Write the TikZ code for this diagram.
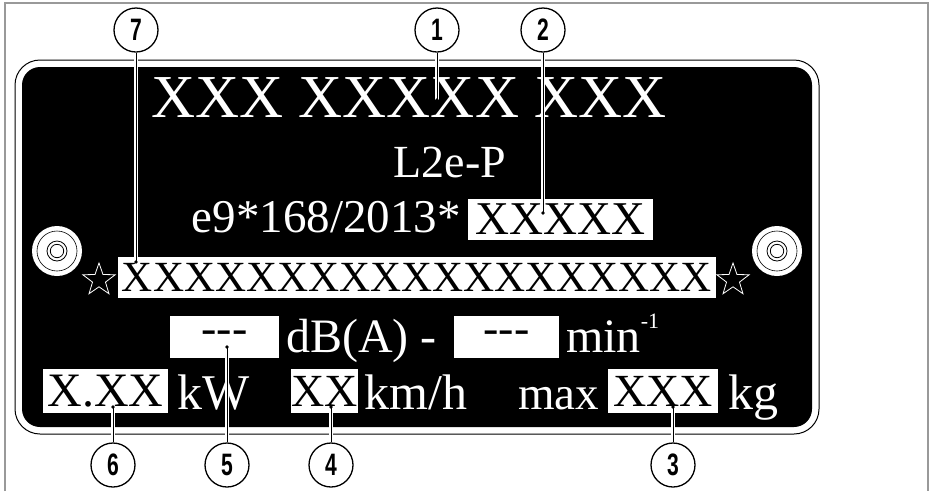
\documentclass[tikz,border=0pt]{standalone}
\usepackage{fontspec}
\usepackage{graphicx}
\setmainfont{Liberation Serif}
\newfontfamily\calloutfont{Liberation Sans}
\usetikzlibrary{shapes.geometric}
\tikzset{
  platetext/.style={text=white, inner sep=0pt, font=\fontsize{46}{50}\selectfont},
  rowtext/.style={text=white, inner sep=0pt, font=\fontsize{50}{54}\selectfont},
  whitebox/.style={fill=white, text=black, inner sep=0pt, font=\fontsize{46}{50}\selectfont},
  callout/.style={circle, draw=black, line width=1.3pt, fill=white, minimum size=44pt, inner sep=0pt,
    font=\calloutfont\bfseries\fontsize{31}{31}\selectfont},
  leaderhalo/.style={white, line width=3.5pt},
  leaderline/.style={black, line width=1pt},
  starmark/.style={star, star points=5, star point ratio=2.5, draw=white, line width=0.8pt,
    minimum size=34pt, inner sep=0pt},
  framegray/.style={draw=black!40, line width=1.5pt},
}
\newcommand{\cnum}[1]{\scalebox{0.68}[1]{#1}}
\begin{document}
\begin{tikzpicture}[x=1pt,y=-1pt]
\useasboundingbox (0,0) rectangle (931,491);
% outer frame
\draw[framegray] (5,491) -- (5,3) -- (928,3) -- (928,491);
% plate
\draw[black, line width=1pt, rounded corners=25pt] (15,60) rectangle (819,434);
\fill[black, rounded corners=18pt] (22,67) rectangle (812,427);
% screws
\foreach \sx in {57,777}{
  \fill[white] (\sx,251) circle (25pt);
  \draw[black, line width=0.6pt] (\sx,251) circle (20pt);
  \draw[black, line width=0.8pt] (\sx,251) circle (10pt);
  \draw[black, line width=0.8pt] (\sx,251) circle (6.7pt);
}
% stars
\node[starmark] (starl) at (99,280) {};
\node[starmark] (starr) at (733,280) {};
% texts
\node[platetext, anchor=base, font=\fontsize{61}{64}\selectfont] (title) at (409,117) {XXX XXXXX XXX};
\node[platetext, anchor=base] (type) at (450,177) {L2e-P};
\node[platetext, anchor=base east, font=\fontsize{47}{50}\selectfont] (appr) at (461,232) {e9*168/2013*};
\node[whitebox, minimum width=185pt, minimum height=41pt, font=\fontsize{47}{50}\selectfont] (boxapp) at (560.5,219.5) {XXXXX};
\node[whitebox, minimum width=598pt, minimum height=41pt, font=\fontsize{43}{46}\selectfont] (boxvin) at (417,277.5) {XXXXXXXXXXXXXXXXXXX};
% noise row
\node[whitebox, minimum width=109pt, minimum height=42pt] (boxdb) at (224.5,337) {-{}-{}-};
\node[platetext, anchor=base west, font=\fontsize{48}{52}\selectfont] (db) at (286,352) {dB(A) -};
\node[whitebox, minimum width=105pt, minimum height=42pt] (boxrpm) at (506.5,337) {-{}-{}-};
\node[platetext, anchor=base west, font=\fontsize{48}{52}\selectfont] (rpm) at (566,352) {min\raisebox{0.5em}{\fontsize{22}{22}\selectfont -1}};
% bottom row
\node[whitebox, minimum width=125pt, minimum height=44pt, font=\fontsize{48}{52}\selectfont] (boxkw) at (105.5,391) {X.XX};
\node[rowtext, anchor=base west] (kw) at (177,409) {kW};
\node[whitebox, minimum width=67pt, minimum height=44pt] (boxkmh) at (324.5,391) {XX};
\node[rowtext, anchor=base west] (kmh) at (364,409) {km/h};
\node[rowtext, anchor=base west, font=\fontsize{47}{50}\selectfont] (max) at (518,409) {max};
\node[whitebox, minimum width=110pt, minimum height=44pt] (boxkg) at (663,391) {XXX};
\node[rowtext, anchor=base west] (kg) at (728,409) {kg};
% callouts
\node[callout] (c7) at (136,30) {\cnum{7}};
\node[callout] (c1) at (437,30) {\cnum{1}};
\node[callout] (c2) at (543,30) {\cnum{2}};
\node[callout] (c6) at (113,465) {\cnum{6}};
\node[callout] (c5) at (227,465) {\cnum{5}};
\node[callout] (c4) at (331,465) {\cnum{4}};
\node[callout] (c3) at (673,465) {\cnum{3}};
% leader ends
\coordinate (d7) at (136,262);
\coordinate (d1) at (437,100);
\coordinate (d2) at (543,213);
\coordinate (d6) at (113,407);
\coordinate (d5) at (227,347);
\coordinate (d4) at (331,407);
\coordinate (d3) at (673,407);
\foreach \n in {7,1,2,6,5,4,3}{
  \draw[leaderhalo] (c\n) -- (d\n);
}
\foreach \n in {7,1,2,6,5,4,3}{
  \draw[leaderline] (c\n) -- (d\n);
  \fill[black] (d\n) circle (1.8pt);
}
\end{tikzpicture}
\end{document}
